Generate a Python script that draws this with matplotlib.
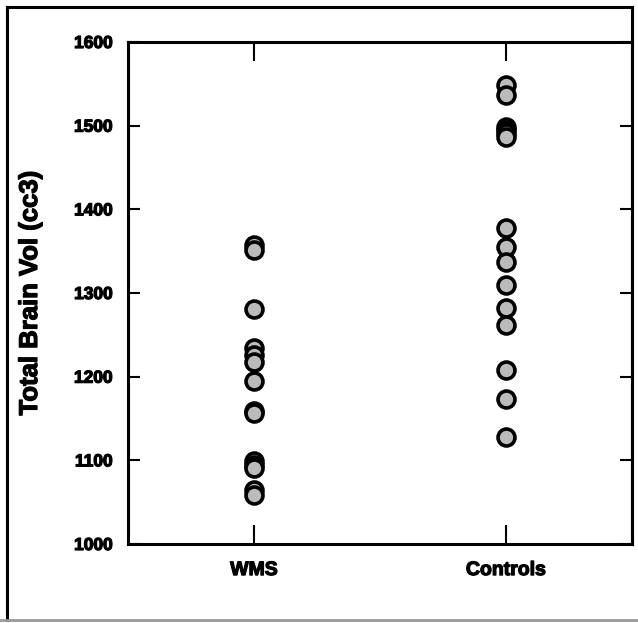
import matplotlib
matplotlib.use('agg')
import matplotlib.pyplot as plt
import matplotlib.patheffects as pe
from matplotlib.lines import Line2D

groups = ['WMS', 'Controls']
wms = [1357, 1351, 1281, 1234, 1226, 1218, 1195, 1159, 1156, 1099, 1095, 1091, 1064, 1058]
controls = [1549, 1537, 1499, 1495, 1491, 1487, 1378, 1355, 1337, 1310, 1282, 1262, 1208, 1173, 1128]
yticks = [1000, 1100, 1200, 1300, 1400, 1500, 1600]

plt.rcParams['font.family'] = ['Liberation Sans', 'DejaVu Sans']
plt.rcParams['font.weight'] = 'bold'
heavy = [pe.withStroke(linewidth=0.9, foreground='black')]

fig = plt.figure(figsize=(6.38, 6.23), dpi=100)
W, H = 638, 623
ax = fig.add_axes([128 / W, 1 - 544 / H, (632 - 128) / W, 502 / H])

for i, vals in enumerate([wms, controls]):
	ax.plot([i + 1] * len(vals), vals, 'o', ms=12.2, mfc='#bbbbbb', mec='black', mew=2.6, linestyle='none', clip_on=False)

ax.set_xlim(0.5, 2.5)
ax.set_ylim(1000, 1600)
ax.set_xticks([1, 2])
ax.set_xticklabels(groups, fontsize=14, fontweight='bold')
ax.set_yticks(yticks)
ax.set_yticklabels([str(v) for v in yticks], fontsize=12.5, fontweight='bold')
for t in ax.get_xticklabels() + ax.get_yticklabels():
	t.set_path_effects(heavy)
ax.tick_params(axis='x', direction='in', length=14, width=1.5, pad=13, top=True)
ax.tick_params(axis='y', direction='in', length=8.5, width=1.5, pad=11, right=True)
for s in ax.spines.values():
	s.set_linewidth(2.2)
yl = ax.set_ylabel('Total Brain Vol (cc3)', fontsize=18.5, fontweight='bold')
yl.set_path_effects(heavy)
ax.yaxis.set_label_coords(-(128 - 42) / 504, 0.5)

# outer frame
fig.add_artist(Line2D([7 / W, 7 / W], [1 - 7 / H, 1 - 620 / H], color='black', lw=2.2))
fig.add_artist(Line2D([7 / W, 632 / W], [1 - 7 / H, 1 - 7 / H], color='black', lw=2.2))
fig.add_artist(Line2D([632 / W, 632 / W], [1 - 7 / H, 1 - 544 / H], color='black', lw=2.2))
fig.add_artist(Line2D([0, 1], [1 - 620 / H, 1 - 620 / H], color='#999999', lw=2))

fig.savefig('out.png', dpi=100)
